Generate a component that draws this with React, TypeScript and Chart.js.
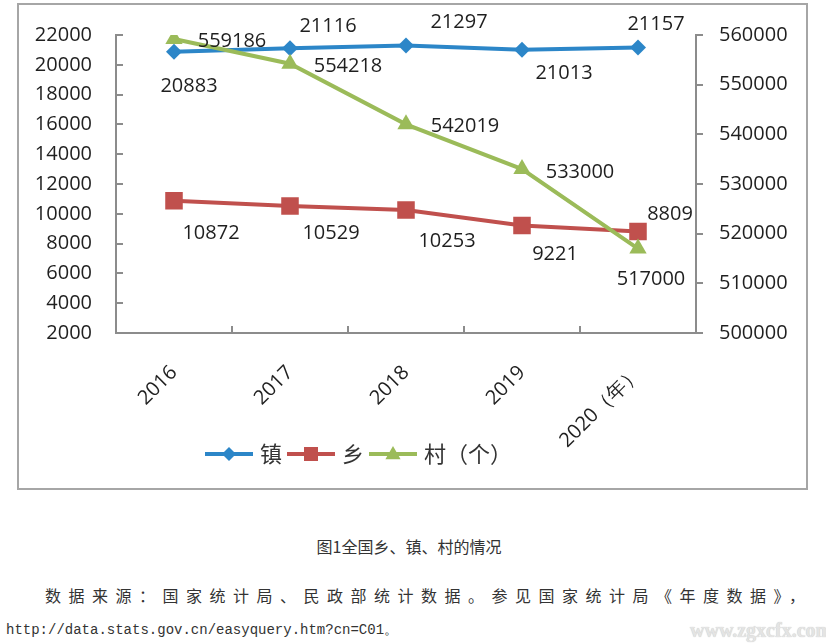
import React, { useEffect, useRef } from "react";
import { Chart, registerables } from "chart.js";

Chart.register(...registerables);

// ---- data ----
const years = ["2016", "2017", "2018", "2019", "2020（年）"];
const seriesNames = ["镇", "乡", "村（个）"];
const townValues = [20883, 21116, 21297, 21013, 21157];
const townshipValues = [10872, 10529, 10253, 9221, 8809];
const villageValues = [559186, 554218, 542019, 533000, 517000];
const leftAxisRange = [2000, 22000, 2000];
const rightAxisRange = [500000, 560000, 10000];

// ---- styles ----
const BLUE = "#2C86C8";
const RED = "#C0504D";
const GREEN = "#9BBB59";
const AXIS = "#8c8c8c";
const TEXT = "#1f1f1f";
const NUM_FONT = '"Open Sans", "Liberation Sans", sans-serif';
const CJK_FONT = '"Noto Sans CJK SC", "Noto Sans", sans-serif';

// label offsets (px) relative to each point: [dx, dy]
const labelOffsets: number[][][] = [
  [[15, 35], [38, -22], [53, -23], [42, 24], [18, -23]],
  [[37, 32], [41, 27], [41, 31], [33, 29], [32, -17]],
  [[58, 2], [58, 3], [59, 2], [58, 3], [13, 31]],
];

function drawMarker(ctx: CanvasRenderingContext2D, kind: number, x: number, y: number, s: number) {
  ctx.beginPath();
  if (kind === 0) {
    ctx.moveTo(x, y - s);
    ctx.lineTo(x + s, y);
    ctx.lineTo(x, y + s);
    ctx.lineTo(x - s, y);
  } else if (kind === 1) {
    ctx.rect(x - s, y - s, 2 * s, 2 * s);
  } else {
    ctx.moveTo(x, y - s);
    ctx.lineTo(x + s * 0.95, y + s * 0.65);
    ctx.lineTo(x - s * 0.95, y + s * 0.65);
  }
  ctx.closePath();
  ctx.fill();
}

const valueLabelPlugin = {
  id: "valueLabels",
  afterDatasetsDraw(chart: any) {
    const ctx = chart.ctx as CanvasRenderingContext2D;
    ctx.save();
    ctx.font = `20px ${NUM_FONT}`;
    ctx.fillStyle = TEXT;
    ctx.textAlign = "center";
    ctx.textBaseline = "middle";
    chart.data.datasets.forEach((ds: any, di: number) => {
      const meta = chart.getDatasetMeta(di);
      meta.data.forEach((pt: any, i: number) => {
        const [dx, dy] = labelOffsets[di][i];
        ctx.fillText(String(ds.data[i]), pt.x + dx, pt.y + dy);
      });
    });
    ctx.restore();
  },
};

const legendPlugin = {
  id: "lineLegend",
  afterDraw(chart: any) {
    const ctx = chart.ctx as CanvasRenderingContext2D;
    const colors = [BLUE, RED, GREEN];
    const markerSize = [7, 7, 8];
    ctx.save();
    ctx.font = `22px ${CJK_FONT}`;
    ctx.textBaseline = "middle";
    ctx.textAlign = "left";
    const y = 454;
    let x = 205;
    seriesNames.forEach((name, i) => {
      ctx.strokeStyle = colors[i];
      ctx.fillStyle = colors[i];
      ctx.lineWidth = 4;
      ctx.beginPath();
      ctx.moveTo(x, y);
      ctx.lineTo(x + 48, y);
      ctx.stroke();
      drawMarker(ctx, i, x + 24, y, markerSize[i]);
      x += 55;
      ctx.fillStyle = "#333";
      ctx.fillText(name, x, y);
      x += ctx.measureText(name).width + 5;
    });
    ctx.restore();
  },
};

const zeroPad = (s: any) => {
  s.paddingTop = 0;
  s.paddingBottom = 0;
  s.paddingLeft = 0;
  s.paddingRight = 0;
};

export default function App() {
  const canvasRef = useRef<HTMLCanvasElement | null>(null);

  useEffect(() => {
    const canvas = canvasRef.current;
    if (!canvas) return;
    const tickFont = { family: NUM_FONT, size: 20 };
    const plain = (v: any) => String(v);
    const chart = new Chart(canvas, {
      type: "line",
      data: {
        labels: years,
        datasets: [
          {
            label: seriesNames[0],
            data: townValues,
            yAxisID: "y",
            borderColor: BLUE,
            backgroundColor: BLUE,
            borderWidth: 4,
            pointStyle: "rectRot",
            pointRadius: 8,
            pointBorderWidth: 0,
            pointBackgroundColor: BLUE,
            order: 3,
          },
          {
            label: seriesNames[1],
            data: townshipValues,
            yAxisID: "y",
            borderColor: RED,
            backgroundColor: RED,
            borderWidth: 4,
            pointStyle: "rect",
            pointRadius: 12.4,
            pointBorderWidth: 0,
            pointBackgroundColor: RED,
            order: 2,
          },
          {
            label: seriesNames[2],
            data: villageValues,
            yAxisID: "y1",
            borderColor: GREEN,
            backgroundColor: GREEN,
            borderWidth: 4,
            pointStyle: "triangle",
            pointRadius: 10,
            pointBorderWidth: 0,
            pointBackgroundColor: GREEN,
            order: 1,
          },
        ],
      },
      options: {
        animation: false,
        responsive: false,
        maintainAspectRatio: false,
        layout: { padding: { top: 35, left: 0, right: 0, bottom: 0 } },
        plugins: {
          legend: { display: false },
          tooltip: { enabled: false },
        },
        scales: {
          x: {
            offset: true,
            grid: {
              offset: true,
              drawOnChartArea: false,
              tickLength: -7,
              color: AXIS,
              lineWidth: 2,
            },
            border: { color: AXIS, width: 2 },
            ticks: {
              minRotation: 45,
              maxRotation: 45,
              padding: 35,
              font: tickFont,
              color: TEXT,
              autoSkip: false,
            },
            afterFit: (s: any) => {
              s.height = 167;
              zeroPad(s);
            },
          },
          y: {
            position: "left",
            min: leftAxisRange[0],
            max: leftAxisRange[1],
            grid: {
              drawOnChartArea: false,
              tickLength: -7,
              color: AXIS,
              lineWidth: 2,
            },
            border: { color: AXIS, width: 2 },
            ticks: {
              stepSize: leftAxisRange[2],
              padding: 31,
              font: tickFont,
              color: TEXT,
              callback: plain,
            },
            afterFit: (s: any) => {
              s.width = 116;
              zeroPad(s);
            },
          },
          y1: {
            position: "right",
            min: rightAxisRange[0],
            max: rightAxisRange[1],
            grid: {
              drawOnChartArea: false,
              tickLength: 7,
              color: AXIS,
              lineWidth: 2,
            },
            border: { color: AXIS, width: 2 },
            ticks: {
              stepSize: rightAxisRange[2],
              padding: 16,
              font: tickFont,
              color: TEXT,
              callback: plain,
            },
            afterFit: (s: any) => {
              s.width = 130;
              zeroPad(s);
            },
          },
        },
      },
      plugins: [valueLabelPlugin, legendPlugin],
    });
    let alive = true;
    if ((document as any).fonts && (document as any).fonts.ready) {
      (document as any).fonts.ready.then(() => {
        if (alive) chart.update();
      });
    }
    return () => {
      alive = false;
      chart.destroy();
    };
  }, []);

  return (
    <div
      style={{
        position: "absolute",
        left: 0,
        top: 0,
        width: 826,
        height: 643,
        background: "#fff",
        overflow: "hidden",
      }}
    >
      <div
        style={{
          position: "absolute",
          left: 17,
          top: 3,
          width: 791,
          height: 487,
          border: "2px solid #a6a6a6",
          boxSizing: "border-box",
        }}
      />
      <canvas
        ref={canvasRef}
        width={826}
        height={500}
        style={{ position: "absolute", left: 0, top: 0 }}
      />
      <div
        style={{
          position: "absolute",
          left: 0,
          width: 818,
          top: 535,
          textAlign: "center",
          font: `16px ${CJK_FONT}`,
          lineHeight: "22px",
          color: "#333",
        }}
      >
        图1全国乡、镇、村的情况
      </div>
      <div
        style={{
          position: "absolute",
          left: 45,
          top: 584,
          font: `16px ${CJK_FONT}`,
          lineHeight: "22px",
          letterSpacing: "7.5px",
          whiteSpace: "nowrap",
          color: "#333",
        }}
      >
        数据来源：国家统计局、民政部统计数据。参见国家统计局《年度数据》，
      </div>
      <div
        style={{
          position: "absolute",
          left: 6,
          top: 620,
          font: '14px "Liberation Mono", monospace',
          lineHeight: "20px",
          whiteSpace: "nowrap",
          color: "#333",
        }}
      >
        http://data.stats.gov.cn/easyquery.htm?cn=C01。
      </div>
      <div
        style={{
          position: "absolute",
          left: 690,
          top: 618,
          font: 'bold 20px "Liberation Serif", serif',
          lineHeight: "24px",
          color: "#e4e4e4",
          textShadow: "0 0 1px #bbb",
          whiteSpace: "nowrap",
        }}
      >
        www.zgxcfx.com
      </div>
    </div>
  );
}
